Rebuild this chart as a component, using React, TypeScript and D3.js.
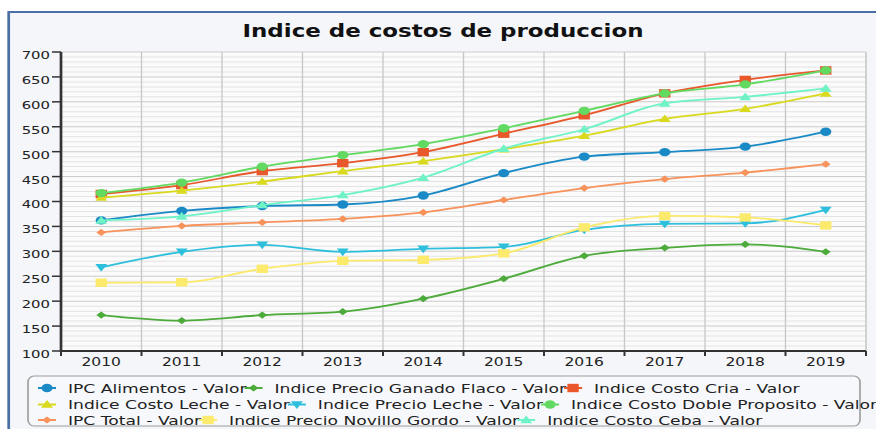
import React, { useEffect, useRef } from "react";
import * as d3 from "d3";

// valores
const years = ["2010", "2011", "2012", "2013", "2014", "2015", "2016", "2017", "2018", "2019"];
const ipcAlimentos = [362, 381, 391, 394, 412, 457, 490, 499, 510, 540];
const precioGanadoFlaco = [172, 161, 172, 179, 205, 245, 291, 307, 314, 299];
const costoCria = [415, 433, 461, 477, 499, 536, 573, 617, 644, 663];
const costoLeche = [408, 422, 440, 461, 481, 505, 532, 566, 586, 617];
const precioLeche = [268, 299, 313, 299, 305, 309, 343, 355, 356, 383];
const costoDobleProposito = [417, 438, 470, 493, 515, 547, 582, 617, 635, 663];
const ipcTotal = [338, 351, 358, 365, 378, 403, 427, 445, 458, 475];
const precioNovilloGordo = [237, 238, 265, 281, 283, 296, 348, 371, 368, 352];
const costoCeba = [362, 370, 393, 413, 448, 506, 545, 597, 610, 627];
const yTicks = [100, 150, 200, 250, 300, 350, 400, 450, 500, 550, 600, 650, 700];

const seriesNames = [
  "IPC Alimentos - Valor",
  "Indice Precio Ganado Flaco - Valor",
  "Indice Costo Cria - Valor",
  "Indice Costo Leche - Valor",
  "Indice Precio Leche - Valor",
  "Indice Costo Doble Proposito - Valor",
  "IPC Total - Valor",
  "Indice Precio Novillo Gordo - Valor",
  "Indice Costo Ceba - Valor",
];
const seriesValues = [
  ipcAlimentos, precioGanadoFlaco, costoCria, costoLeche, precioLeche,
  costoDobleProposito, ipcTotal, precioNovilloGordo, costoCeba,
];
const seriesColors = [
  "#1a8ac6", "#4cab3a", "#e8582a", "#d9d91e", "#2dbfdc",
  "#62da62", "#f7925b", "#fbea6c", "#6ff3c6",
];
const seriesSymbols = ["circle", "diamond", "square", "triangle", "triangleDown", "circle", "diamond", "square", "triangle"];

// el grafico original esta estirado en horizontal
const SX = 1.35;
const W = 876 / SX;
const H = 429;
const px = (v: number) => v / SX;

const symbolPath = (kind: string) => {
  if (kind === "circle") return d3.symbol(d3.symbolCircle, 54)()!;
  if (kind === "square") return "M-4.2,-4.2L4.2,-4.2L4.2,4.2L-4.2,4.2Z";
  if (kind === "diamond") return "M0,-3.6L3.6,0L0,3.6L-3.6,0Z";
  if (kind === "triangle") return "M0,-4.4L4.4,3.3L-4.4,3.3Z";
  return "M0,4.4L4.4,-3.3L-4.4,-3.3Z";
};

export default function App() {
  const ref = useRef<SVGSVGElement>(null);

  useEffect(() => {
    const svg = d3.select(ref.current);
    svg.selectAll("*").remove();

    const left = px(61), right = px(866), top = 52, bottom = 351;

    // marco exterior
    svg.append("rect").attr("width", W).attr("height", H).attr("fill", "#ffffff");
    svg.append("rect")
      .attr("x", px(8.7)).attr("y", 12).attr("width", W + 20).attr("height", H)
      .attr("fill", "#f4f6fa").attr("stroke", "#4a6fa6").attr("stroke-width", 2);

    svg.append("text")
      .attr("x", px(443)).attr("y", 37)
      .attr("text-anchor", "middle")
      .attr("font-family", "DejaVu Sans").attr("font-weight", "bold").attr("font-size", 17)
      .attr("fill", "#111")
      .text("Indice de costos de produccion");

    const x = d3.scaleBand().domain(years).range([left, right]);
    const y = d3.scaleLinear().domain([100, 700]).range([bottom, top]);

    svg.append("rect")
      .attr("x", left).attr("y", top).attr("width", right - left).attr("height", bottom - top)
      .attr("fill", "#fbfbfc");

    // rejilla
    const minor = d3.range(110, 700, 10).filter(v => v % 50 !== 0);
    svg.append("g").selectAll("line").data(minor).join("line")
      .attr("x1", left).attr("x2", right)
      .attr("y1", d => y(d)).attr("y2", d => y(d))
      .attr("stroke", "#e3e3e3").attr("stroke-width", 1);
    svg.append("g").selectAll("line").data(yTicks.slice(1)).join("line")
      .attr("x1", left).attr("x2", right)
      .attr("y1", d => y(d)).attr("y2", d => y(d))
      .attr("stroke", "#cbcbcb").attr("stroke-width", 1);
    svg.append("g").selectAll("line").data(years.slice(1)).join("line")
      .attr("x1", d => x(d)!).attr("x2", d => x(d)!)
      .attr("y1", top).attr("y2", bottom)
      .attr("stroke", "#c8c8c8").attr("stroke-width", 1);
    svg.append("line").attr("x1", right).attr("x2", right).attr("y1", top).attr("y2", bottom)
      .attr("stroke", "#c8c8c8").attr("stroke-width", 1.2);

    // ejes
    svg.append("line").attr("x1", left).attr("x2", left).attr("y1", top).attr("y2", bottom + 1)
      .attr("stroke", "#333").attr("stroke-width", 2);
    svg.append("line").attr("x1", left).attr("x2", right).attr("y1", bottom).attr("y2", bottom)
      .attr("stroke", "#333").attr("stroke-width", 2);
    svg.append("g").selectAll("line").data(yTicks).join("line")
      .attr("x1", left - px(9)).attr("x2", left)
      .attr("y1", d => y(d)).attr("y2", d => y(d))
      .attr("stroke", "#333").attr("stroke-width", 1.5);
    svg.append("g").selectAll("text").data(yTicks).join("text")
      .attr("x", px(50)).attr("y", d => y(d) + 7)
      .attr("text-anchor", "end")
      .attr("font-family", "DejaVu Sans").attr("font-size", 11).attr("fill", "#222")
      .text(d => d);
    const bounds = years.map(d => x(d)!).concat([right]);
    svg.append("g").selectAll("line").data(bounds).join("line")
      .attr("x1", d => d).attr("x2", d => d)
      .attr("y1", bottom).attr("y2", bottom + 5)
      .attr("stroke", "#333").attr("stroke-width", 1.5);
    svg.append("g").selectAll("text").data(years).join("text")
      .attr("x", d => x(d)! + x.bandwidth() / 2).attr("y", 366)
      .attr("text-anchor", "middle")
      .attr("font-family", "DejaVu Sans").attr("font-size", 11.5).attr("fill", "#222")
      .text(d => d);

    // series
    const line = d3.line<number>()
      .x((_, i) => x(years[i])! + x.bandwidth() / 2)
      .y(d => y(d))
      .curve(d3.curveMonotoneX);
    seriesValues.forEach((vals, s) => {
      const g = svg.append("g");
      g.append("path").attr("d", line(vals)!)
        .attr("fill", "none").attr("stroke", seriesColors[s]).attr("stroke-width", 1.8);
      g.selectAll("path.m").data(vals).join("path").attr("class", "m")
        .attr("d", symbolPath(seriesSymbols[s]))
        .attr("transform", (d, i) => `translate(${x(years[i])! + x.bandwidth() / 2},${y(d)})`)
        .attr("fill", seriesColors[s]);
    });

    // leyenda
    svg.append("rect")
      .attr("x", px(28)).attr("y", 376).attr("width", px(832)).attr("height", 50)
      .attr("rx", 4.5).attr("ry", 6)
      .attr("fill", "#f7f8fb").attr("stroke", "#9c9c9c").attr("stroke-width", 1.2);
    const rowBase = [393, 409.5, 425];
    for (let r = 0; r < 3; r++) {
      let sx = px(38);
      for (let c = 0; c < 3; c++) {
        const s = r * 3 + c;
        const base = rowBase[r];
        const g = svg.append("g");
        g.append("line").attr("x1", sx).attr("x2", sx + px(18))
          .attr("y1", base - 5).attr("y2", base - 5)
          .attr("stroke", seriesColors[s]).attr("stroke-width", 2);
        g.append("path").attr("d", symbolPath(seriesSymbols[s]))
          .attr("transform", `translate(${sx + px(9)},${base - 5})`)
          .attr("fill", seriesColors[s]);
        const t = g.append("text")
          .attr("x", sx + px(30)).attr("y", base)
          .attr("font-family", "DejaVu Sans").attr("font-size", 12.7).attr("fill", "#222")
          .text(seriesNames[s]);
        const w = (t.node() as SVGTextElement).getComputedTextLength();
        sx = sx + px(30) + w - px(2);
      }
    }
  }, []);

  return (
    <svg
      ref={ref}
      width={876}
      height={429}
      viewBox={`0 0 ${W} ${H}`}
      preserveAspectRatio="none"
      style={{ position: "absolute", left: 0, top: 0 }}
    />
  );
}
